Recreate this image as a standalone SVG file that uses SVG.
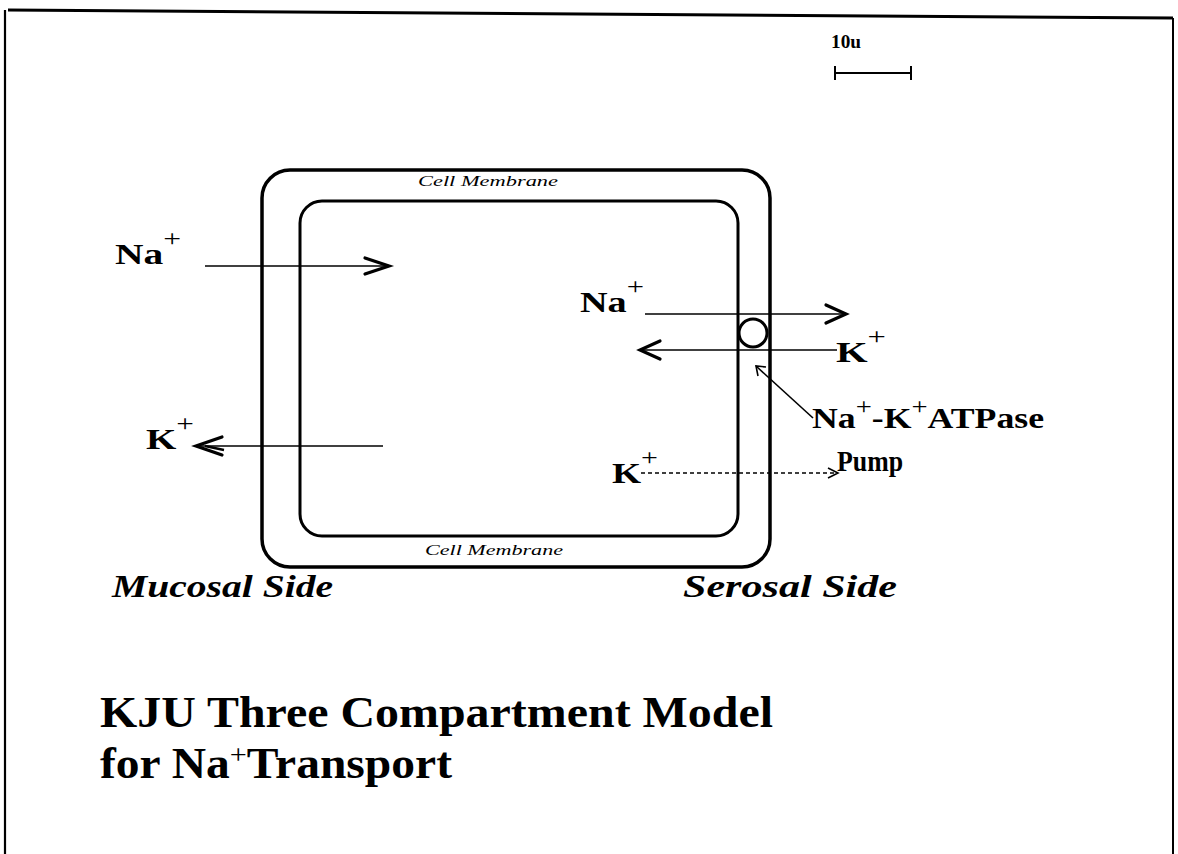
<svg xmlns="http://www.w3.org/2000/svg" width="1178" height="854" viewBox="0 0 1178 854">
<style>
.lbl{font-family:"Liberation Serif",serif;font-weight:bold;font-size:30px;fill:#000}
.sup{font-weight:normal;font-size:24px}
.mem{font-family:"Liberation Serif",serif;font-style:italic;font-size:15px;fill:#000}
.side{font-family:"Liberation Serif",serif;font-style:italic;font-weight:bold;font-size:31px;fill:#000}
.title{font-family:"Liberation Serif",serif;font-weight:bold;font-size:44px;fill:#000}
.ln{stroke:#000;stroke-width:1.6;fill:none}
.hd{stroke:#000;stroke-width:3.2;fill:none;stroke-linecap:round;stroke-linejoin:miter}
.wall{stroke:#000;fill:none}
</style>
<rect width="1178" height="854" fill="#fff"/>
<g id="frame">
<line x1="8" y1="10" x2="1173" y2="18" stroke="#000" stroke-width="3"/>
<line x1="5" y1="10" x2="5" y2="854" stroke="#000" stroke-width="2.2"/>
<line x1="1173" y1="18" x2="1173" y2="854" stroke="#000" stroke-width="2"/>
</g>
<g id="scale">
<text x="831" y="48" class="lbl" style="font-size:19px" textLength="30" lengthAdjust="spacingAndGlyphs">10u</text>
<line x1="834" y1="73" x2="912" y2="73" stroke="#000" stroke-width="2"/>
<line x1="835" y1="66" x2="835" y2="80" stroke="#000" stroke-width="2"/>
<line x1="911" y1="66" x2="911" y2="80" stroke="#000" stroke-width="2"/>
</g>
<g id="cell">
<rect x="262" y="170" width="508" height="397" rx="28" class="wall" stroke-width="3.5"/>
<rect x="300" y="201" width="438" height="335" rx="22" class="wall" stroke-width="3"/>
<text x="418" y="186" class="mem" textLength="140" lengthAdjust="spacingAndGlyphs">Cell Membrane</text>
<text x="425" y="555" class="mem" textLength="138" lengthAdjust="spacingAndGlyphs">Cell Membrane</text>
</g>
<g id="pump">
<circle cx="753" cy="333" r="14" fill="#fff" stroke="#000" stroke-width="3"/>
</g>
<g id="connectors">
<line x1="205" y1="266" x2="389" y2="266" class="ln"/>
<polyline points="365,258 389,266 365,274" class="hd"/>
<line x1="645" y1="314" x2="846" y2="314" class="ln"/>
<polyline points="826,305 846,314 826,323" class="hd"/>
<line x1="639" y1="350" x2="837" y2="350" class="ln"/>
<polyline points="660,341 640,350 660,359" class="hd"/>
<line x1="196" y1="446" x2="383" y2="446" class="ln"/>
<polyline points="222,437 196,446 222,455" class="hd" stroke-width="3.8"/>
<line x1="205" y1="446" x2="224" y2="450" stroke="#000" stroke-width="2.5"/>
<line x1="641" y1="473" x2="837" y2="473" class="ln" stroke-dasharray="4,3" stroke-width="1.2"/>
<polyline points="828,468 838,473 828,478" class="ln" stroke-width="1.2"/>
<line x1="813" y1="418" x2="756" y2="366" class="ln" stroke-width="1.4"/>
<polyline points="758,376 756,366 766,367" class="ln" stroke-width="1.6"/>
</g>
<g id="labels">
<text x="115" y="264" class="lbl" textLength="66" lengthAdjust="spacingAndGlyphs">Na<tspan class="sup" dy="-18">+</tspan></text>
<text x="580" y="312" class="lbl" textLength="64" lengthAdjust="spacingAndGlyphs">Na<tspan class="sup" dy="-18">+</tspan></text>
<text x="836" y="362" class="lbl" textLength="50" lengthAdjust="spacingAndGlyphs">K<tspan class="sup" dy="-18">+</tspan></text>
<text x="146" y="449" class="lbl" textLength="48" lengthAdjust="spacingAndGlyphs">K<tspan class="sup" dy="-18">+</tspan></text>
<text x="612" y="483" class="lbl" textLength="46" lengthAdjust="spacingAndGlyphs">K<tspan class="sup" dy="-18">+</tspan></text>
<text x="812" y="428" class="lbl" textLength="232" lengthAdjust="spacingAndGlyphs">Na<tspan class="sup" dy="-14">+</tspan><tspan dy="14">-K</tspan><tspan class="sup" dy="-14">+</tspan><tspan dy="14">ATPase</tspan></text>
<text x="837" y="471" class="lbl" textLength="66" lengthAdjust="spacingAndGlyphs">Pump</text>
</g>
<g id="sides">
<text x="112" y="597" class="side" textLength="221" lengthAdjust="spacingAndGlyphs">Mucosal Side</text>
<text x="683" y="597" class="side" textLength="214" lengthAdjust="spacingAndGlyphs">Serosal Side</text>
</g>
<g id="title">
<text x="100" y="727" class="title" textLength="673" lengthAdjust="spacingAndGlyphs">KJU Three Compartment Model</text>
<text x="100" y="778" class="title" textLength="352" lengthAdjust="spacingAndGlyphs">for Na<tspan class="sup" style="font-size:28px" dy="-14">+</tspan><tspan dy="14">Transport</tspan></text>
</g>
</svg>
